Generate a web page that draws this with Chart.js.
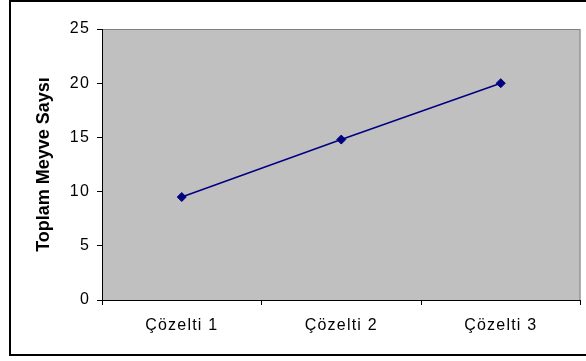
<!DOCTYPE html>
<html>
<head>
<meta charset="utf-8">
<script src="https://cdn.jsdelivr.net/npm/chart.js@4/dist/chart.umd.min.js"></script>
<style>
  html, body { margin: 0; padding: 0; background: #ffffff; }
  #wrap { width: 586px; height: 361px; position: relative; }
</style>
</head>
<body>
<div id="wrap"><canvas id="c" width="586" height="361"></canvas></div>
<script>
// Categories and series values
const categories = ['Çözelti 1', 'Çözelti 2', 'Çözelti 3'];
const meyveSayisi = [9.5, 14.8, 20.0];
const yTickValues = [0, 5, 10, 15, 20, 25];
const yTitle = 'Toplam Meyve Saysı';

// Gray plot area with a thin dark-gray frame, plus the outer chart border
const frame = {
  id: 'frame',
  beforeDraw(chart) {
    const { ctx, chartArea: a } = chart;
    ctx.save();
    ctx.fillStyle = '#ffffff';
    ctx.fillRect(0, 0, chart.width, chart.height);
    ctx.fillStyle = '#c0c0c0';
    ctx.fillRect(a.left, a.top, a.right - a.left, a.bottom - a.top);
    ctx.strokeStyle = '#808080';
    ctx.lineWidth = 1;
    ctx.strokeRect(a.left + 0.5, a.top + 0.5, a.right - a.left - 1, a.bottom - a.top);
    ctx.strokeStyle = '#000000';
    ctx.lineWidth = 2;
    ctx.strokeRect(10, 1, 600, 354);
    ctx.restore();
  }
};

// Slightly wider letter spacing for the tick labels only
const tickSpacing = {
  id: 'tickSpacing',
  beforeDraw(chart) {
    for (const s of Object.values(chart.scales)) {
      if (s._spaced) continue;
      const orig = s.drawLabels.bind(s);
      s.drawLabels = (area) => {
        const c = s.ctx;
        const prev = c.letterSpacing;
        c.letterSpacing = '1.2px';
        orig(area);
        c.letterSpacing = prev || '0px';
      };
      s._spaced = true;
    }
  }
};

const tickFont = { family: "'Liberation Sans', Arial, sans-serif", size: 16 };

new Chart(document.getElementById('c'), {
  type: 'line',
  data: {
    labels: categories,
    datasets: [{
      data: meyveSayisi,
      borderColor: '#000080',
      backgroundColor: '#000080',
      borderWidth: 1.5,
      pointStyle: 'rectRot',
      pointRadius: 4.5,
      pointHoverRadius: 4.5,
      pointBorderWidth: 1,
      tension: 0,
      fill: false
    }]
  },
  options: {
    responsive: false,
    animation: false,
    devicePixelRatio: 1,
    layout: { padding: { left: 0, top: 29, right: 5, bottom: 0 } },
    plugins: { legend: { display: false }, tooltip: { enabled: false } },
    scales: {
      x: {
        offset: true,
        grid: { offset: true, drawOnChartArea: false, tickLength: 5, color: '#000000', lineWidth: 1 },
        border: { color: '#000000', width: 1 },
        ticks: { color: '#000000', font: tickFont, padding: 11, maxRotation: 0 },
        afterFit(scale) { scale.height = 61; }
      },
      y: {
        min: 0,
        max: 25,
        afterBuildTicks(scale) { scale.ticks = yTickValues.map(v => ({ value: v })); },
        grid: { drawOnChartArea: false, tickLength: 5, color: '#000000', lineWidth: 1 },
        border: { color: '#000000', width: 1 },
        ticks: { color: '#000000', font: tickFont, padding: 7 },
        title: {
          display: true,
          text: yTitle,
          color: '#000000',
          font: { family: "'Liberation Sans', Arial, sans-serif", size: 18, weight: 'bold' },
          padding: { top: 33, bottom: 0 }
        },
        afterFit(scale) { scale.width = 102; }
      }
    }
  },
  plugins: [frame, tickSpacing]
});
</script>
</body>
</html>
